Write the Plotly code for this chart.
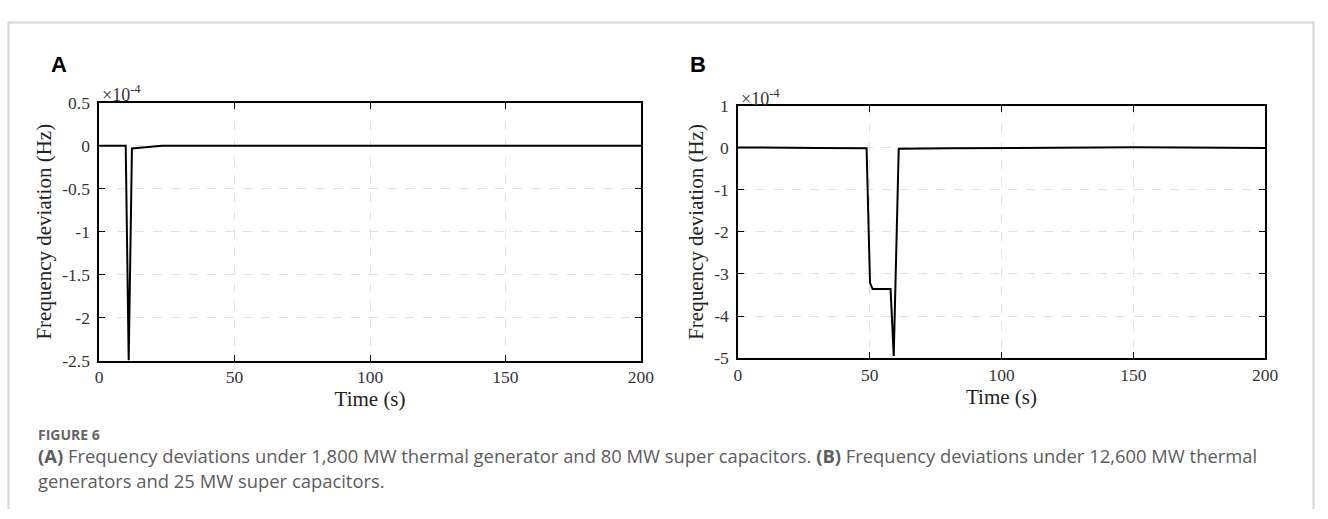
import plotly.graph_objects as go

W, H = 1328, 519

# Panel A data (values in units of 1e-4 Hz)
time_a = [0, 9.8, 10.9, 12.1, 15, 18, 20, 23.2, 50, 100, 150, 200]
freq_a = [0, 0, -2.5, -0.03, -0.022, -0.012, -0.006, 0, 0, 0, 0, 0]

# Panel B data (values in units of 1e-4 Hz)
time_b = [0, 10, 30, 48.8, 50.1, 51.1, 57.9, 59.1, 61.0, 80, 100, 130, 150, 170, 200]
freq_b = [0.01, 0.01, 0.0, -0.01, -3.21, -3.36, -3.36, -4.95, -0.02, -0.01, 0.0, 0.01, 0.015, 0.01, 0.0]

ticks_x = [0, 50, 100, 150, 200]
ticks_ya = [-2.5, -2, -1.5, -1, -0.5, 0, 0.5]
ticklabels_ya = ["-2.5", "-2", "-1.5", "-1", "-0.5", "0", "0.5"]
ticks_yb = [-5, -4, -3, -2, -1, 0, 1]
ticklabels_yb = ["-5", "-4", "-3", "-2", "-1", "0", "1"]

caption_title = "FIGURE 6"
caption_l1 = ("<b>(A)</b> Frequency deviations under 1,800 MW thermal generator and 80 MW super capacitors. "
              "<b>(B)</b> Frequency deviations under 12,600 MW thermal")
caption_l2 = "generators and 25 MW super capacitors."

def px(x):
    return x / W

def py(y):
    return 1 - y / H

fig = go.Figure()
fig.add_trace(go.Scatter(x=time_a, y=freq_a, mode="lines", line=dict(color="black", width=2),
                         xaxis="x", yaxis="y", showlegend=False))
fig.add_trace(go.Scatter(x=time_b, y=freq_b, mode="lines", line=dict(color="black", width=2),
                         xaxis="x2", yaxis="y2", showlegend=False))

serif = "Liberation Serif, Times New Roman, serif"
tickfont = dict(family=serif, size=17.5, color="#333")
titlefont = dict(family=serif, size=21, color="#222")

def xaxis(domain, anchor):
    return dict(domain=domain, anchor=anchor, range=[0, 200], tickvals=ticks_x,
                showline=True, linecolor="black", linewidth=1.5, mirror="ticks",
                ticks="inside", ticklen=6, tickcolor="black", tickwidth=1,
                showgrid=True, gridcolor="#e2e2e2", griddash="dash", gridwidth=1,
                zeroline=False, tickfont=tickfont,
                title=dict(text="Time (s)", font=titlefont, standoff=5))

def yaxis(domain, anchor, rng, tv, tt):
    return dict(domain=domain, anchor=anchor, range=rng, tickvals=tv, ticktext=tt,
                showline=True, linecolor="black", linewidth=1.5, mirror="ticks",
                ticks="inside", ticklen=6, tickcolor="black", tickwidth=1,
                showgrid=True, gridcolor="#e2e2e2", griddash="dash", gridwidth=1,
                zeroline=False, tickfont=tickfont, ticklabelstandoff=4,
                title=dict(text="Frequency deviation (Hz)", font=titlefont, standoff=5))

fig.update_layout(
    width=W, height=H,
    margin=dict(l=0, r=0, t=0, b=0),
    paper_bgcolor="white", plot_bgcolor="white",
    xaxis=xaxis([px(96.4), px(645.2)], "y"),
    yaxis=yaxis([py(364.6), py(96.6)], "x", [-2.5, 0.5], ticks_ya, ticklabels_ya),
    xaxis2=xaxis([px(743.5), px(1277.4)], "y2"),
    yaxis2=yaxis([py(362), py(99.7)], "x2", [-5, 1], ticks_yb, ticklabels_yb),
)

# card border (open at the bottom)
fig.add_shape(type="path", xref="paper", yref="paper",
              path=f"M {px(4.5)},0 L {px(4.5)},{py(13)} L {px(1326.5)},{py(13)} L {px(1326.5)},0",
              line=dict(color="#d6d6d6", width=2), layer="below")

ann = []
# panel letters
ann.append(dict(text="<b>A</b>", x=px(46), y=py(57), xanchor="left", yanchor="middle",
                font=dict(family="Liberation Sans, Arial", size=22, color="black")))
ann.append(dict(text="<b>B</b>", x=px(693), y=py(57), xanchor="left", yanchor="middle",
                font=dict(family="Liberation Sans, Arial", size=22, color="black")))
# exponent labels
ann.append(dict(text="×10<sup>-4</sup>", x=px(97), y=py(87), xanchor="left", yanchor="middle",
                font=dict(family=serif, size=18, color="#333")))
ann.append(dict(text="×10<sup>-4</sup>", x=px(745), y=py(91), xanchor="left", yanchor="middle",
                font=dict(family=serif, size=18, color="#333")))
# caption
capfont = dict(family="Open Sans, sans-serif", size=18.4, color="#5c5c5c")
ann.append(dict(text="<b>FIGURE 6</b>", x=px(32), y=py(441), xanchor="left", yanchor="middle",
                font=dict(family="Open Sans, sans-serif", size=14, color="#666")))
ann.append(dict(text=caption_l1, x=px(32), y=py(463), xanchor="left", yanchor="middle", font=capfont))
ann.append(dict(text=caption_l2, x=px(32), y=py(489), xanchor="left", yanchor="middle", font=capfont))

for a in ann:
    a.update(xref="paper", yref="paper", showarrow=False)
fig.update_layout(annotations=ann)

fig.write_html("out.html", config={"displayModeBar": False},
               post_script="document.body.style.margin='0';")
